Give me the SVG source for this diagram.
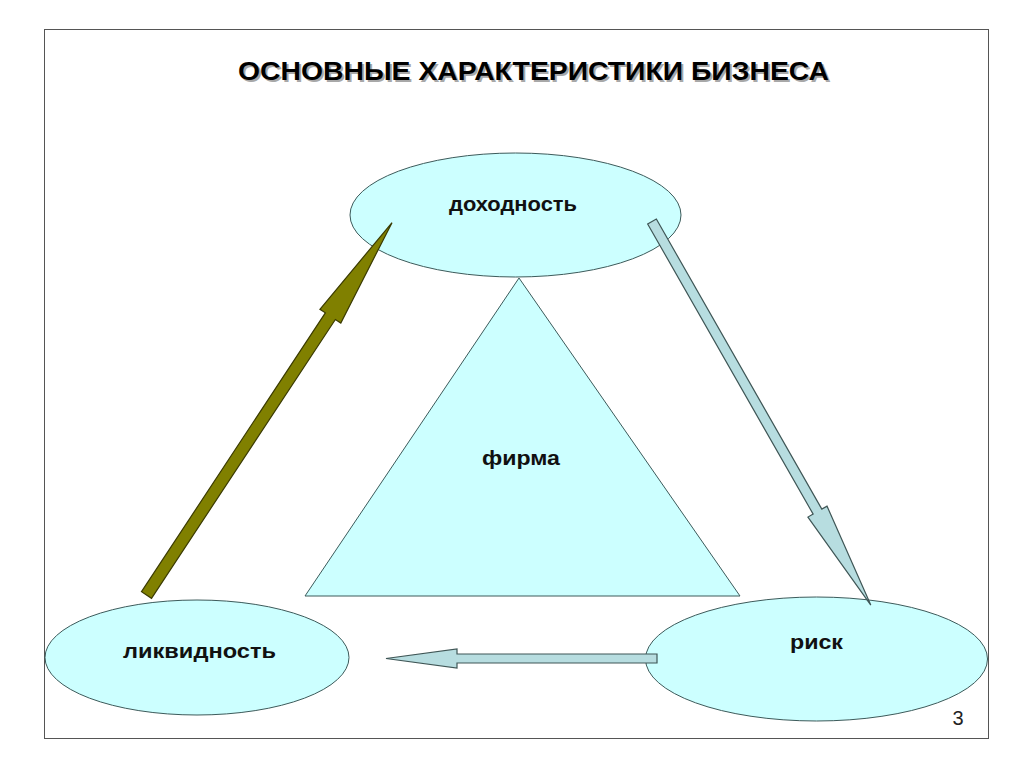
<svg xmlns="http://www.w3.org/2000/svg" width="1024" height="768" viewBox="0 0 1024 768">
<style>
.node{fill:#ccffff;stroke:#3c5a5a;stroke-width:1}
.lbl{font-family:"Liberation Sans",Arial,sans-serif;font-weight:bold;font-size:20px;fill:#111;text-anchor:middle}
.title{font-family:"Liberation Sans",Arial,sans-serif;font-weight:bold;font-size:25px;text-anchor:middle}
.arrL{fill:#b7dde0;stroke:#3f5656;stroke-width:1.2}
.arrO{fill:#808000;stroke:#3a3a00;stroke-width:1.2}
</style>
<rect x="0" y="0" width="1024" height="768" fill="#fff"/>
<rect x="44.5" y="29.5" width="944" height="709" fill="#fff" stroke="#555" stroke-width="1"/>
<g id="title">
<text class="title" x="535.5" y="81.5" fill="#a8a8a8" textLength="591" lengthAdjust="spacingAndGlyphs">ОСНОВНЫЕ  ХАРАКТЕРИСТИКИ  БИЗНЕСА</text>
<text class="title" x="533.5" y="79.5" fill="#000" textLength="591" lengthAdjust="spacingAndGlyphs">ОСНОВНЫЕ  ХАРАКТЕРИСТИКИ  БИЗНЕСА</text>
</g>
<g id="firma">
<polygon class="node" points="519,278 305,596 740,596"/>
<text class="lbl" x="521" y="465" textLength="78" lengthAdjust="spacingAndGlyphs">фирма</text>
</g>
<g id="dohodnost">
<ellipse class="node" cx="515.5" cy="215" rx="165.5" ry="62"/>
<text class="lbl" x="513" y="211" textLength="128" lengthAdjust="spacingAndGlyphs">доходность</text>
</g>
<g id="likvidnost">
<ellipse class="node" cx="197" cy="657.5" rx="152" ry="57.5"/>
<text class="lbl" x="199.5" y="658" textLength="153" lengthAdjust="spacingAndGlyphs">ликвидность</text>
</g>
<g id="risk">
<ellipse class="node" cx="816.5" cy="659" rx="171" ry="62"/>
<text class="lbl" x="816.5" y="649" textLength="53" lengthAdjust="spacingAndGlyphs">риск</text>
</g>
<g id="connectors">
<polygon class="arrO" transform="translate(146.5,595) rotate(-56.6)" points="0,-6 334,-6 334,-12.5 446,0 334,12.5 334,6 0,6"/>
<polygon class="arrL" transform="translate(652,221.5) rotate(60.3)" points="0,-5 334,-5 334,-11 441.6,0 334,11 334,5 0,5"/>
<polygon class="arrL" points="657,654 457,654 457,649 386,658.5 457,668 457,663 657,663"/>
</g>
<text x="958" y="725" font-family="Liberation Sans,Arial,sans-serif" font-size="20" fill="#222" text-anchor="middle">3</text>
</svg>
